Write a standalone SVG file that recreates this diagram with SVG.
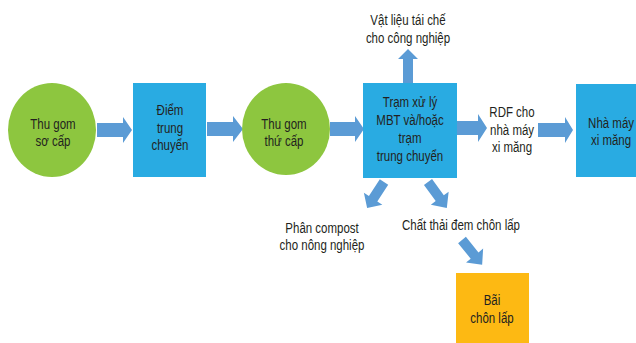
<svg xmlns="http://www.w3.org/2000/svg" width="636" height="343" viewBox="0 0 636 343">
  <defs>
    <style>
      text { font-family: "Liberation Sans", Arial, sans-serif; font-size: 14px; fill: #231f20; text-anchor: middle;
             transform-box: fill-box; transform-origin: center; transform: scaleX(0.82); }
      .green { fill: #8dc63f; }
      .blue { fill: #29abe2; }
      .yellow { fill: #fdb913; }
      .arrow { fill: #5b9bd5; }
    </style>
  </defs>
  <rect width="636" height="343" fill="#ffffff"/>

  <!-- flow arrows -->
  <g id="connectors">
    <!-- horizontal arrows: shaft then head pointing right -->
    <polygon class="arrow" points="97,123 123,123 123,117 132,130 123,143 123,137 97,137"/>
    <polygon class="arrow" points="207,122 233,122 233,116 243,129 233,142 233,136 207,136"/>
    <polygon class="arrow" points="330,122 355,122 355,116 364,129 355,142 355,136 330,136"/>
    <polygon class="arrow" points="455,121 478,121 478,114 487,128 478,142 478,135 455,135"/>
    <polygon class="arrow" points="538,123 565,123 565,117 573,130 565,143 565,137 538,137"/>
    <!-- upward arrow to recycled materials -->
    <polygon class="arrow" points="403,83 403,59 398,59 408,49 418,59 413,59 413,83"/>
    <!-- diagonal arrows below the MBT station -->
    <g transform="translate(384,182) rotate(123)">
      <polygon class="arrow" points="0,-5 20,-5 20,-11 31,0 20,11 20,5 0,5"/>
    </g>
    <g transform="translate(428,182) rotate(54)">
      <polygon class="arrow" points="0,-5 20,-5 20,-11 32,0 20,11 20,5 0,5"/>
    </g>
    <g transform="translate(462,240) rotate(51)">
      <polygon class="arrow" points="0,-5 20,-5 20,-11 32,0 20,11 20,5 0,5"/>
    </g>
  </g>

  <g id="primary-collection">
    <ellipse class="green" cx="52" cy="130" rx="44" ry="47"/>
    <text x="53" y="129">Thu gom</text>
    <text x="53" y="146">sơ cấp</text>
  </g>

  <g id="transfer-point">
    <rect class="blue" x="133" y="83" width="73" height="94"/>
    <text x="170" y="115">Điểm</text>
    <text x="170" y="133">trung</text>
    <text x="170" y="150">chuyển</text>
  </g>

  <g id="secondary-collection">
    <ellipse class="green" cx="286" cy="129" rx="44" ry="46"/>
    <text x="284" y="129">Thu gom</text>
    <text x="284" y="146">thứ cấp</text>
  </g>

  <g id="mbt-station">
    <rect class="blue" x="363" y="83" width="94" height="95"/>
    <text x="410" y="107">Trạm xử lý</text>
    <text x="410" y="125">MBT và/hoặc</text>
    <text x="410" y="143">trạm</text>
    <text x="410" y="161">trung chuyển</text>
  </g>

  <g id="recycled-materials">
    <text x="408" y="25">Vật liệu tái chế</text>
    <text x="408" y="43">cho công nghiệp</text>
  </g>

  <g id="rdf">
    <text x="512" y="117">RDF cho</text>
    <text x="512" y="135">nhà máy</text>
    <text x="512" y="152">xi măng</text>
  </g>

  <g id="cement-plant">
    <rect class="blue" x="576" y="84" width="72" height="93"/>
    <text x="611" y="128">Nhà máy</text>
    <text x="611" y="145">xi măng</text>
  </g>

  <g id="compost">
    <text x="322" y="233">Phân compost</text>
    <text x="322" y="250">cho nông nghiệp</text>
  </g>

  <g id="residual-waste">
    <text x="461" y="230">Chất thải đem chôn lấp</text>
  </g>

  <g id="landfill">
    <rect class="yellow" x="456" y="273" width="73" height="75"/>
    <text x="492" y="305">Bãi</text>
    <text x="492" y="323">chôn lấp</text>
  </g>
</svg>
